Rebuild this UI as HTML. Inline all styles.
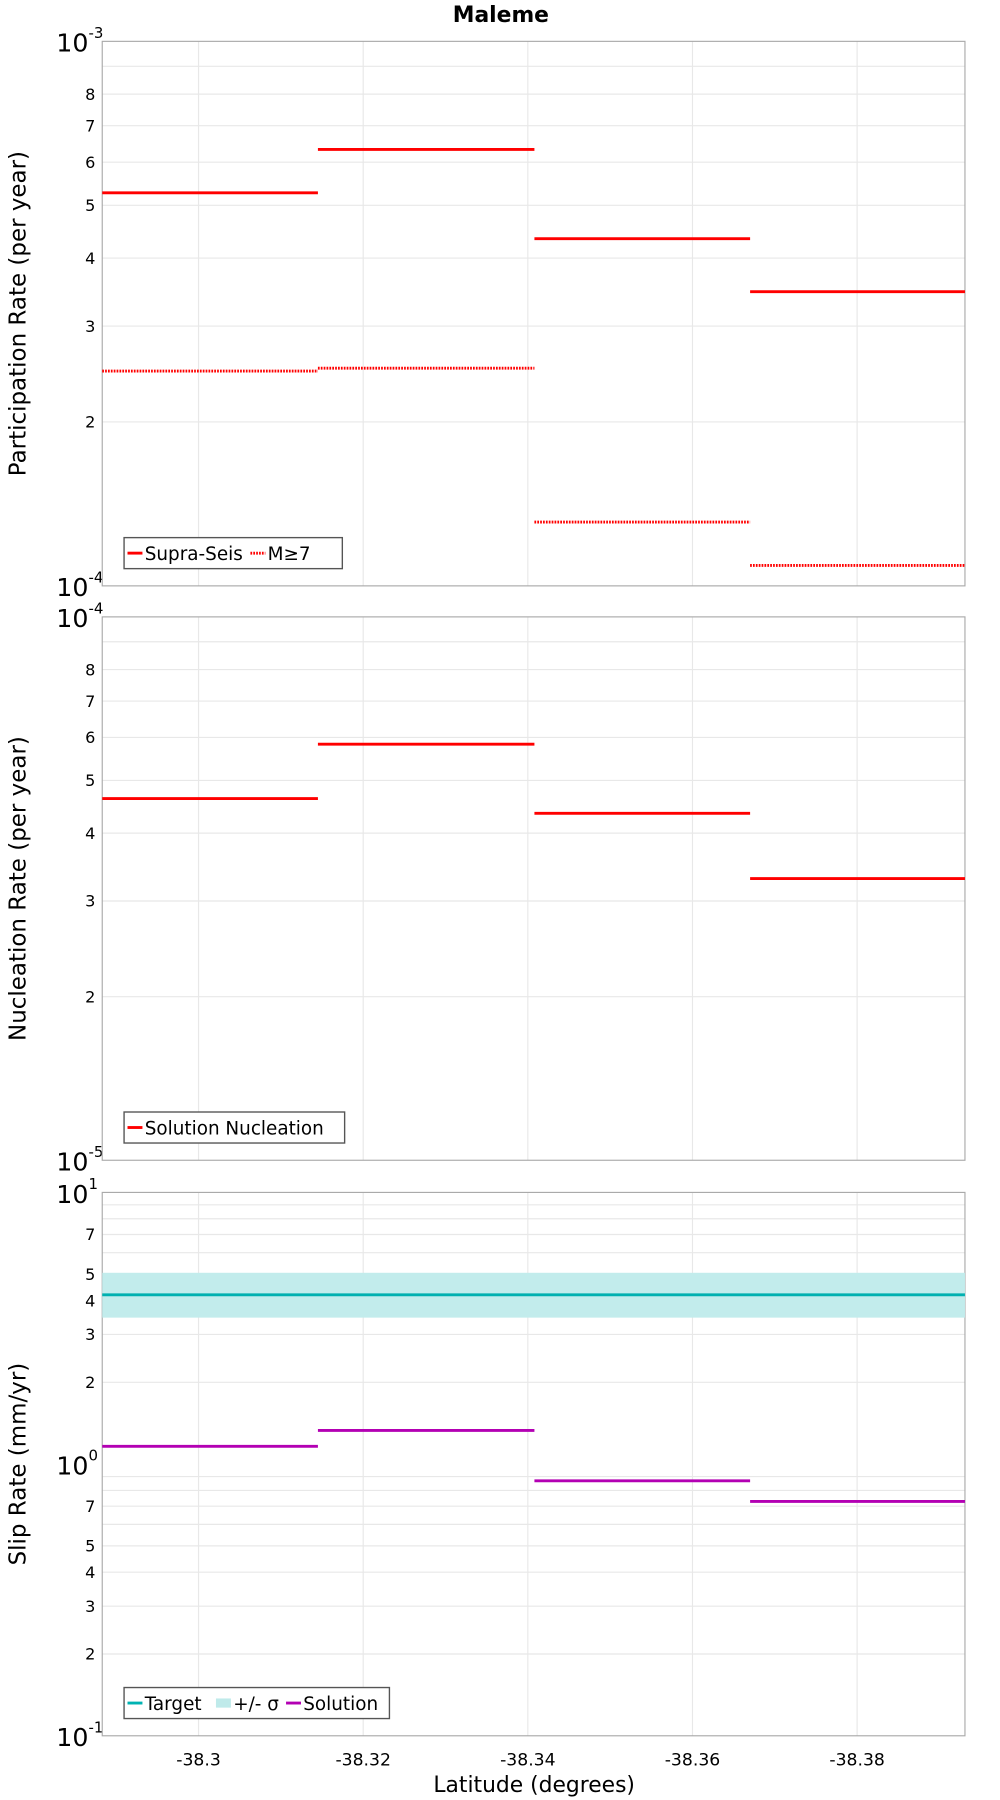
<!DOCTYPE html>
<html><head><meta charset="utf-8">
<style>
html,body{margin:0;padding:0;background:#fff;}
svg{display:block;font-family:"DejaVu Sans","Liberation Sans",sans-serif;}
</style></head>
<body>
<svg id="chart" width="1000" height="1800" viewBox="0 0 870.5 1566.9" preserveAspectRatio="none" xmlns="http://www.w3.org/2000/svg">
<text x="436" y="19" text-anchor="middle" font-size="19" font-weight="bold">Maleme</text>
<g id="panels"></g>
<text x="465" y="1560" text-anchor="middle" font-size="19">Latitude (degrees)</text>
</svg>
<script>
// Data
const latBounds = [-38.2883, -38.3145, -38.3408, -38.3670, -38.3931];
const xTicks = [-38.3, -38.32, -38.34, -38.36, -38.38];
const xTickLabels = ["-38.3", "-38.32", "-38.34", "-38.36", "-38.38"];
const supraSeis = [5.27e-4, 6.33e-4, 4.34e-4, 3.47e-4];
const m7Rates = [2.48e-4, 2.51e-4, 1.31e-4, 1.09e-4];
const nucleation = [4.63e-5, 5.83e-5, 4.35e-5, 3.30e-5];
const slipSolution = [1.163, 1.33, 0.868, 0.729];
const slipTarget = [4.2];
const slipSigmaLow = [3.46];
const slipSigmaHigh = [5.06];

const NS = "http://www.w3.org/2000/svg";
const root = document.getElementById('panels');
const L = 89, R = 840;
function xS(v){ return L + (v - latBounds[0]) / (latBounds[4] - latBounds[0]) * (R - L); }
function mk(tag, attrs, parent){ const e = document.createElementNS(NS, tag); for (const k in attrs) e.setAttribute(k, attrs[k]); (parent||root).appendChild(e); return e; }
function txt(s, attrs, parent){ const e = mk('text', attrs, parent); e.textContent = s; return e; }

function panel(cfg){
  const g = mk('g', {});
  
  
  const yS = v => cfg.bot - (Math.log10(v) - cfg.lo) / (cfg.hi - cfg.lo) * (cfg.bot - cfg.top);
  for (let d = cfg.lo; d < cfg.hi; d++) {
    for (let m = 2; m <= 9; m++) {
      const v = m * Math.pow(10, d), y = yS(v);
      const gl = mk('line', {x1: L, x2: R, y1: y, y2: y, stroke: '#e8e8e8', 'stroke-width': 1}, g);
      
      
      if (cfg.minorLabels.includes(m)) {
        const t = txt(String(m), {x: L - 6, y: y + 5, 'text-anchor': 'end', 'font-size': 14}, g);
        
        
      }
    }
  }
  xTicks.forEach((v, i) => {
    const x = xS(v);
    const gl = mk('line', {x1: x, x2: x, y1: cfg.top, y2: cfg.bot, stroke: '#e8e8e8', 'stroke-width': 1}, g);
    
    
    if (cfg.xlabels) {
      const t = txt(xTickLabels[i], {x: x, y: cfg.bot + 26, 'text-anchor': 'middle', 'font-size': 15}, g);
      
      
    }
  });
  for (let d = cfg.lo; d <= cfg.hi; d++) {
    const y = yS(Math.pow(10, d));
    const t = txt('10', {x: L - 12, y: y + 9, 'text-anchor': 'end', 'font-size': 22}, g);
    
    
    const s = txt(String(d), {x: L - 12, y: y - 3, 'text-anchor': 'start', 'font-size': 13}, g);
    
    
  }
  const fr = mk('rect', {x: L, y: cfg.top, width: R - L, height: cfg.bot - cfg.top, fill: 'none', stroke: '#aaa', 'stroke-width': 1}, g);
  
  
  const yt = txt(cfg.ytitle, {x: 0, y: 0, 'text-anchor': 'middle', 'font-size': 20, transform: `translate(22,${(cfg.top + cfg.bot) / 2}) rotate(-90)`}, g);
  
  
  cfg.draw(g, yS);
  const lg = mk('g', {}, g);
  
  
  const ly = cfg.bot - 42;
  mk('rect', {x: 108, y: ly, width: cfg.legW, height: 27, fill: '#fff', stroke: '#555', 'stroke-width': 1.2}, lg);
  let cx = 111;
  cfg.legend.forEach(it => {
    const e = mk('line', {x1: cx, x2: cx + 13, y1: ly + 13.5, y2: ly + 13.5, stroke: it.c, 'stroke-width': it.w || 2.5}, lg);
    if (it.dash) e.setAttribute('stroke-dasharray', '1.5,1');
    
    
    const t = txt(it.t, {x: cx + 15, y: ly + 19.5, 'font-size': 16}, lg);
    
    
    cx += 15 + it.tw + 4;
  });
}

function segs(g, vals, yS, color, dash, name){
  vals.forEach((v, i) => {
    const y = yS(v);
    const l = mk('line', {x1: xS(latBounds[i]), x2: xS(latBounds[i + 1]), y1: y, y2: y, stroke: color, 'stroke-width': 2.5}, g);
    if (dash) l.setAttribute('stroke-dasharray', '1.5,1');
    
    
  });
}

panel({name: 'participation-panel', top: 36, bot: 510, lo: -4, hi: -3, minorLabels: [2,3,4,5,6,7,8], xlabels: false,
  ytitle: 'Participation Rate (per year)', legW: 190,
  legend: [{c: '#f00', t: 'Supra-Seis', tw: 88}, {c: '#f00', t: 'M≥7', tw: 40, dash: true}],
  draw: (g, yS) => { segs(g, supraSeis, yS, '#f00', false, 'supra-seis-segment'); segs(g, m7Rates, yS, '#f00', true, 'm7-segment'); }});

panel({name: 'nucleation-panel', top: 537, bot: 1010, lo: -5, hi: -4, minorLabels: [2,3,4,5,6,7,8], xlabels: false,
  ytitle: 'Nucleation Rate (per year)', legW: 192,
  legend: [{c: '#f00', t: 'Solution Nucleation', tw: 170}],
  draw: (g, yS) => { segs(g, nucleation, yS, '#f00', false, 'nucleation-segment'); }});

panel({name: 'slip-rate-panel', top: 1038, bot: 1511, lo: -1, hi: 1, minorLabels: [2,3,4,5,7], xlabels: true,
  ytitle: 'Slip Rate (mm/yr)', legW: 231,
  legend: [{c: '#00b3b3', t: 'Target', tw: 58}, {c: '#bfeaea', t: '+/- σ', tw: 42, w: 8}, {c: '#b300b3', t: 'Solution', tw: 70}],
  draw: (g, yS) => {
    const b = mk('rect', {x: L, y: yS(slipSigmaHigh[0]), width: R - L, height: yS(slipSigmaLow[0]) - yS(slipSigmaHigh[0]), fill: '#c2ecec'}, g);
    
    
    const t = mk('line', {x1: L, x2: R, y1: yS(slipTarget[0]), y2: yS(slipTarget[0]), stroke: '#00b0b0', 'stroke-width': 2.5}, g);
    
    
    segs(g, slipSolution, yS, '#b300b3', false, 'solution-segment');
  }});
</script>
</body></html>
